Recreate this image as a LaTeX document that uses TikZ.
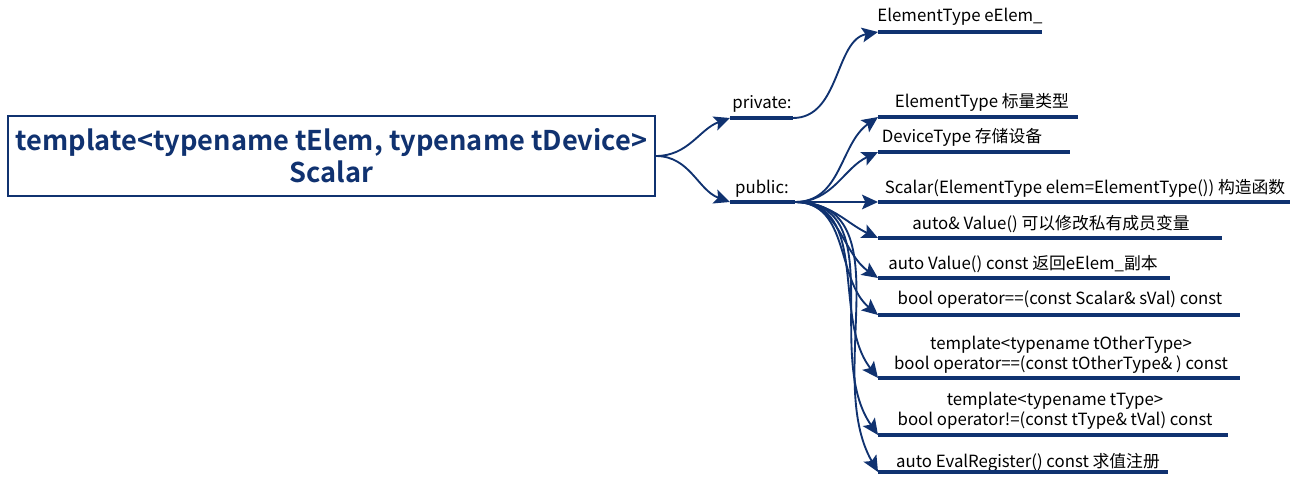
\documentclass[tikz,border=0pt]{standalone}
\usepackage{fontspec}
\setmainfont{Noto Sans CJK SC}[BoldFont={Noto Sans CJK SC Bold}]
\usetikzlibrary{arrows.meta}
\definecolor{navy}{RGB}{16,50,112}
\tikzset{
  lbl/.style={text=black, font=\fontsize{12.6}{14.6}\selectfont, inner sep=0pt, align=center},
  uline/.style={draw=navy, line width=3.4pt},
  conn/.style={draw=navy, line width=1.4pt, -{Stealth[length=12pt,width=11pt,inset=2.5pt]}},
  rootbox/.style={draw=navy, line width=1.5pt, text=navy, font=\bfseries\fontsize{20.4}{24}\selectfont, align=center, minimum width=485pt, minimum height=60pt, inner sep=0pt}
}
\begin{document}
\begin{tikzpicture}[x=0.75pt,y=-0.75pt]
\useasboundingbox (0,0) rectangle (1295,481);
% root
\node[rootbox] (root) at (331.5,156) {template<typename tElem, typename tDevice>\\Scalar};
% level 1
\node[lbl] (priv) at (762,104) {private:};
\coordinate (privS) at (730,118); \coordinate (privE) at (793,118);
\draw[uline] (privS) -- (privE);
\node[lbl] (pub) at (762,189) {public:};
\coordinate (pubS) at (730,202); \coordinate (pubE) at (795,202);
\draw[uline] (pubS) -- (pubE);
\draw[conn] (root.east) to[out=0,in=200] (privS);
\draw[conn] (root.east) to[out=0,in=160] (pubS);
% private child
\node[lbl] (a1) at (960,17) {ElementType eElem\_};
\coordinate (a1S) at (878,32); \coordinate (a1E) at (1042,32);
\draw[uline] (a1S) -- (a1E);
\draw[conn] (privE) .. controls (840,118) and (835,40) .. (a1S);
% public children
\newcommand{\child}[7]{%
  \node[lbl] (#1) at (#2,#3) {#4};
  \coordinate (#1S) at (878,#5); \coordinate (#1E) at (#6,#5);
  \draw[uline] (#1S) -- (#1E);
  \draw[conn] (pubE) to[out=0,in=#7] (#1S);}
\child{b1}{982}{102}{ElementType {标量类型}}{117}{1078}{215}
\child{b2}{962}{137}{DeviceType {存储设备}}{152}{1070}{205}
\child{b3}{1085}{188}{Scalar(ElementType elem=ElementType()) {构造函数}}{202}{1290}{180}
\child{b4}{1051}{224}{auto\& Value() {可以修改私有成员变量}}{238}{1222}{155}
\child{b5}{1023}{264}{auto Value() const {返回}eElem\_{副本}}{278}{1170}{145}
\child{b6}{1060}{300}{bool operator==(const Scalar\& sVal) const}{315}{1240}{140}
\child{b7}{1061}{355}{template<typename tOtherType>\\bool operator==(const tOtherType\& ) const}{378}{1240}{128}
\child{b8}{1055}{411}{template<typename tType>\\bool operator!=(const tType\& tVal) const}{435}{1228}{125}
\child{b9}{1028}{463}{auto EvalRegister() const {求值注册}}{472}{1168}{120}
\end{tikzpicture}
\end{document}
